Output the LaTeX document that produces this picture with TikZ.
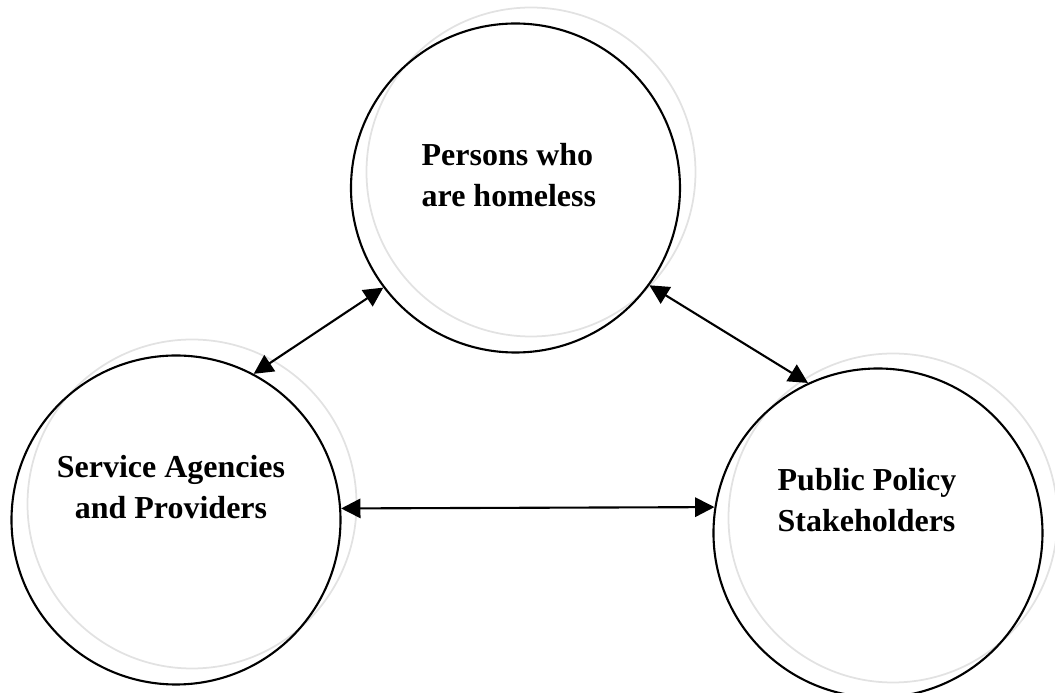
\documentclass[tikz,border=0pt]{standalone}
\usepackage{fontspec}
\setmainfont{Liberation Serif}
\usetikzlibrary{arrows.meta,positioning,calc}
\definecolor{ringshadow}{RGB}{226,226,226}
\tikzstyle{group}=[minimum size=3.29cm,circle,draw,line width=.6pt,inner sep=0pt]
\tikzstyle{groupshadow}=[minimum size=3.29cm,circle,draw=ringshadow,line width=.5pt,inner sep=0pt]
\tikzset{roletext/.style={font=\bfseries\fontsize{9.1}{11.7}\selectfont,inner sep=0pt}}
\tikzset{link/.style={{Triangle[length=5.5pt,width=5.5pt]}-{Triangle[length=5.5pt,width=5.5pt]},line width=.6pt}}
\tikzset{y=-1cm}
\tikzset{x=1cm}

\begin{document}
\begin{tikzpicture}
  \useasboundingbox (0,0) rectangle (10.55,6.93);
  %% light rings behind
  \draw (5.31,1.72) node[groupshadow] (PHs) {};
  \draw (1.92,5.04) node[groupshadow] (SAs) {};
  \draw (8.93,5.18) node[groupshadow] (PPs) {};

  \draw (5.155,1.88) node[group] (PH) {};
  \draw (1.76,5.20) node[group] (SA) {};
  \draw (8.78,5.33) node[group] (PP) {};

  %% base anchor sits on the last line
  \draw (4.21,2.07) node[roletext,anchor=base west,align=left] (PHt) {Persons who\\are homeless};
  \draw (1.71,5.19) node[roletext,anchor=base,align=center] (SAt) {Service Agencies\\and Providers};
  \draw (7.77,5.32) node[roletext,anchor=base west,align=left] (PPt) {Public Policy\\Stakeholders};

  \draw[link] (SA.62.5) -- (PH.217.8);
  \draw[link] (PH.324.6) -- (PP.115);
  \draw[link] (SA.4.5) -- (PP.171);
\end{tikzpicture}
\end{document}
